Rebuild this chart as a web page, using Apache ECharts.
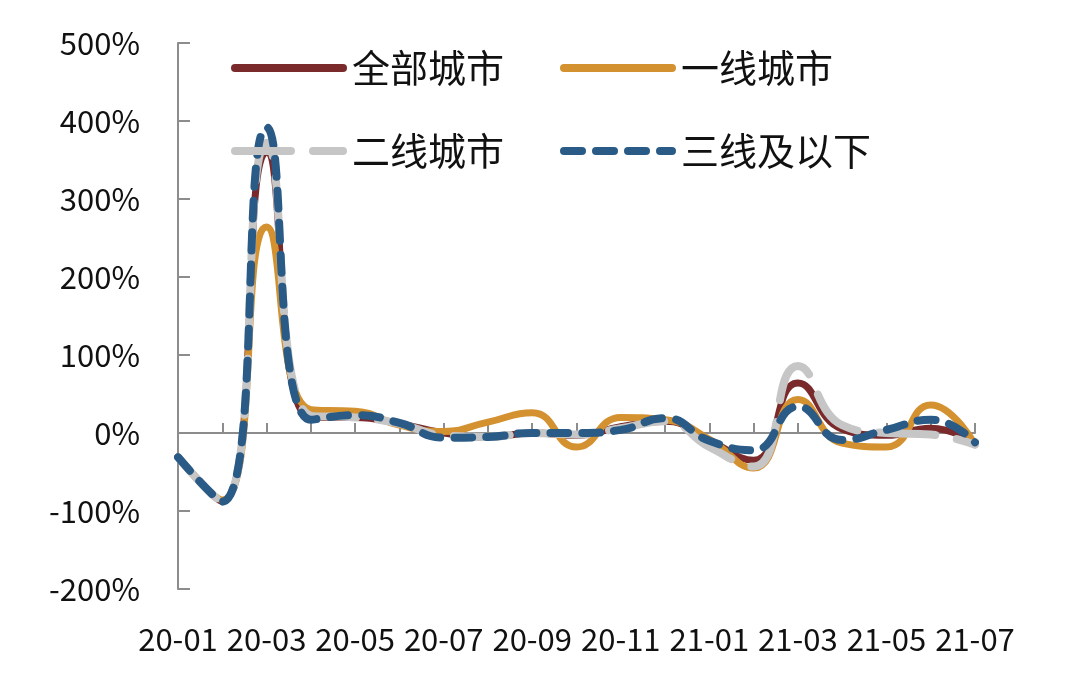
<!DOCTYPE html>
<html>
<head>
<meta charset="utf-8">
<script src="https://cdn.jsdelivr.net/npm/echarts@6/dist/echarts.min.js"></script>
<style>
  html, body { margin: 0; padding: 0; background: #fff; }
  #chart { width: 1080px; height: 675px; }
</style>
</head>
<body>
<div id="chart"></div>
<script>
const FONT = '"Noto Sans CJK SC", "Noto Sans", sans-serif'

const months = ['20-01', '20-02', '20-03', '20-04', '20-05', '20-06', '20-07', '20-08', '20-09', '20-10',
  '20-11', '20-12', '21-01', '21-02', '21-03', '21-04', '21-05', '21-06', '21-07']

// values in %
const allCities = [-31, -88, 360, 20, 20, 12, 0, -5, 0, -3, 8, 15, -10, -35, 64, 5, -3, 6, -13]
const tier1 = [-31, -86, 264, 30, 28, 10, 2, 14, 26, -18, 20, 17, -8, -45, 43, -13, -18, 36, -15]
const tier2 = [-31, -88, 372, 22, 20, 12, -3, -5, 0, -2, 6, 15, -18, -43, 86, 10, 0, -2, -15]
const tier3 = [-31, -88, 392, 17, 23, 13, -6, -5, 0, 0, 4, 19, -10, -22, 34, -9, 4, 17, -12]

const chart = echarts.init(document.getElementById('chart'))

const legendBase = {
  icon: 'inherit',
  padding: 0,
  itemWidth: 108,
  itemHeight: 14,
  itemGap: 0,
  itemStyle: { opacity: 0 },
  lineStyle: { width: 8, cap: 'round' },
  textStyle: { fontSize: 38, color: '#111', fontFamily: FONT, padding: [0, 0, 0, 4] }
}

const option = {
  animation: false,
  backgroundColor: '#fff',
  textStyle: { fontFamily: FONT },
  legend: [
    Object.assign({ data: ['全部城市'], left: 231, top: 49 }, legendBase),
    Object.assign({ data: ['一线城市'], left: 560, top: 49 }, legendBase),
    Object.assign({ data: ['二线城市'], left: 231, top: 132 }, legendBase),
    Object.assign({ data: ['三线及以下'], left: 560, top: 132 }, legendBase)
  ],
  grid: { left: 178, right: 105, top: 43, bottom: 86 },
  xAxis: [
    {
      type: 'category',
      data: months,
      boundaryGap: false,
      position: 'bottom',
      axisLine: { show: false, onZero: false },
      axisTick: { show: false },
      axisLabel: { interval: 1, fontSize: 31, color: '#111', fontFamily: FONT, margin: 35 }
    },
    {
      type: 'category',
      data: months,
      boundaryGap: false,
      position: 'bottom',
      axisLine: { show: true, onZero: true, lineStyle: { color: '#8c8c8c', width: 2 } },
      axisTick: { show: true, inside: true, length: 10, interval: 0, lineStyle: { color: '#8c8c8c', width: 2 } },
      axisLabel: { show: false }
    }
  ],
  yAxis: {
    type: 'value',
    min: -200,
    max: 500,
    interval: 100,
    axisLine: { show: true, lineStyle: { color: '#8c8c8c', width: 2 } },
    axisTick: { show: true, inside: true, length: 12, lineStyle: { color: '#8c8c8c', width: 2 } },
    splitLine: { show: false },
    axisLabel: { formatter: '{value}%', fontSize: 31, color: '#111', fontFamily: FONT, margin: 38 }
  },
  series: [
    {
      name: '全部城市', type: 'line', data: allCities, smooth: 0.5, showSymbol: false, symbol: 'none',
      itemStyle: { color: '#7a2a2b' },
      lineStyle: { color: '#7a2a2b', width: 7, cap: 'round' }
    },
    {
      name: '一线城市', type: 'line', data: tier1, smooth: 0.5, showSymbol: false, symbol: 'none',
      itemStyle: { color: '#d4912f' },
      lineStyle: { color: '#d4912f', width: 7, cap: 'round' }
    },
    {
      name: '二线城市', type: 'line', data: tier2, smooth: 0.5, showSymbol: false, symbol: 'none',
      itemStyle: { color: '#c6c6c6' },
      lineStyle: { color: '#c6c6c6', width: 8, type: [56, 22], cap: 'round' }
    },
    {
      name: '三线及以下', type: 'line', data: tier3, smooth: 0.5, showSymbol: false, symbol: 'none',
      itemStyle: { color: '#2a5b86' },
      lineStyle: { color: '#2a5b86', width: 8, type: [18, 14], cap: 'round' }
    }
  ]
}

chart.setOption(option)
</script>
</body>
</html>
